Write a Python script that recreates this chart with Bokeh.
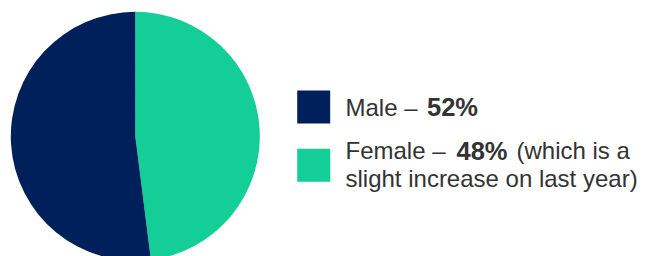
import numpy as np
from bokeh.plotting import figure
from bokeh.models import Range1d, ColumnDataSource
from bokeh.core.properties import value
from bokeh.embed import file_html
from bokeh.resources import INLINE

# data
categories = ["Female", "Male"]
shares = [48, 52]
colors = ["#13CE96", "#00205B"]
legend_labels = ["Male – ", "Female – "]
legend_values = ["52%", "48%"]
legend_note = ["(which is a", "slight increase on last year)"]

W, H = 649, 256
p = figure(width=W, height=H, output_backend="svg", toolbar_location=None,
           x_range=Range1d(0, W), y_range=Range1d(0, H),
           min_border=0, outline_line_color=None)
p.axis.visible = False
p.grid.visible = False
p.background_fill_color = "white"
p.border_fill_color = "white"

# pie: starts at 12 o'clock, clockwise
fr = np.array(shares, dtype=float) / sum(shares)
cum = np.concatenate([[0], np.cumsum(fr)])
start_cw = np.pi / 2 - cum[:-1] * 2 * np.pi
end_cw = np.pi / 2 - cum[1:] * 2 * np.pi
src = ColumnDataSource(dict(cat=categories, start=end_cw, end=start_cw, color=colors))
cx, cy, r = 134.8, H - 135.8, 124.5
p.wedge(x=cx, y=cy, radius=r, start_angle="start", end_angle="end",
        fill_color="color", line_color=None, source=src)

# legend squares
sq = 33
p.rect(x=[296.7 + sq / 2] * 2, y=[H - (90 + sq / 2), H - (148.3 + sq / 2)],
       width=sq, height=sq, fill_color=[colors[1], colors[0]], line_color=None)

font = value("Liberation Sans")
tc = "#333333"
common = dict(text_font=font, text_color=tc,
              text_baseline="alphabetic", text_align="left")
dy = 9.0
l1, l2, l3 = H - 115.7 + dy, H - 159 + dy, H - 186.7 + dy
p.text(x=[345, 345], y=[l1, l2], text=legend_labels,
       text_font_size="24px", **common)
p.text(x=[426.5, 456], y=[l1, l2], text=legend_values,
       text_font_style="bold", text_font_size="25.5px", **common)
p.text(x=[516, 345], y=[l2, l3], text=legend_note,
       text_font_size="24px", **common)

open("out.html", "w").write(file_html(p, INLINE))
